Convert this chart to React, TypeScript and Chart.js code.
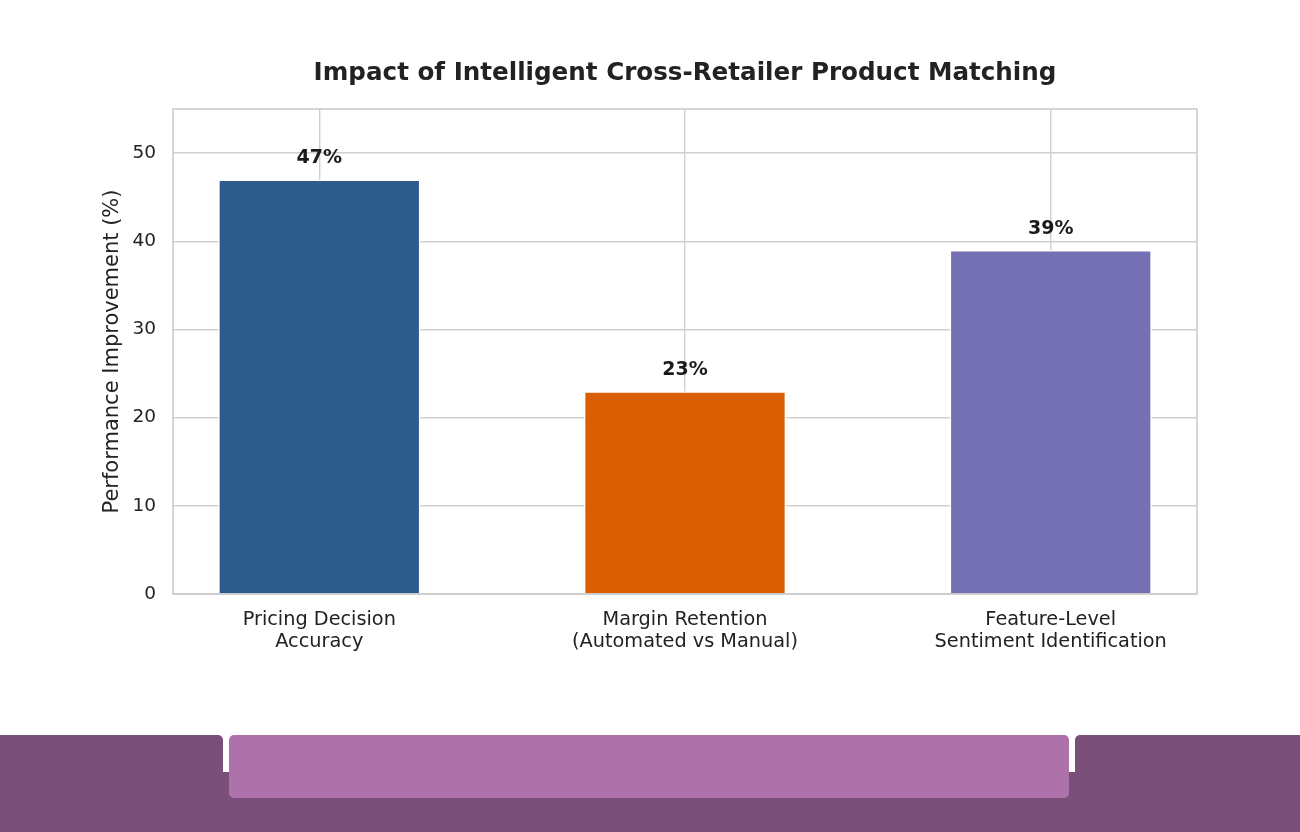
import React, { useEffect, useRef } from "react";
import { Chart, registerables } from "chart.js";

Chart.register(...registerables);

const TITLE = "Impact of Intelligent Cross-Retailer Product Matching";
const categories: string[][] = [
  ["Pricing Decision", "Accuracy"],
  ["Margin Retention", "(Automated vs Manual)"],
  ["Feature-Level", "Sentiment Identification"],
];
const values: number[] = [47, 23, 39];
const barColors: string[] = ["#2c5b8c", "#d95f02", "#7570b3"];
const yTicks: number[] = [0, 10, 20, 30, 40, 50];
const Y_LABEL = "Performance Improvement (%)";

const FONT = "'DejaVu Sans', sans-serif";

const framePlugin = {
  id: "frame",
  afterDatasetsDraw(chart: any) {
    const { ctx, chartArea } = chart;
    ctx.save();
    ctx.strokeStyle = "#cccccc";
    ctx.lineWidth = 1.6;
    ctx.strokeRect(chartArea.left, chartArea.top, chartArea.right - chartArea.left, chartArea.bottom - chartArea.top);
    // value labels
    const meta = chart.getDatasetMeta(0);
    ctx.fillStyle = "#1a1a1a";
    ctx.font = `bold 19px ${FONT}`;
    ctx.textAlign = "center";
    ctx.textBaseline = "bottom";
    meta.data.forEach((el: any, i: number) => {
      ctx.fillText(`${values[i]}%`, el.x, el.y - 12);
    });
    // title centred over plot area
    ctx.fillStyle = "#222222";
    ctx.font = `bold 24.6px ${FONT}`;
    ctx.textBaseline = "middle";
    ctx.fillText(TITLE, (chartArea.left + chartArea.right) / 2, 74);
    ctx.restore();
  },
};

function ChartView() {
  const ref = useRef<HTMLCanvasElement | null>(null);
  useEffect(() => {
    if (!ref.current) return;
    const chart = new Chart(ref.current, {
      type: "bar",
      data: {
        datasets: [
          {
            data: values.map((v, i) => ({ x: i, y: v })),
            backgroundColor: barColors,
            borderColor: "#ffffff",
            borderWidth: 1.5,
            barPercentage: 0.553,
            categoryPercentage: 1,
          },
        ],
      },
      options: {
        responsive: false,
        animation: false,
        devicePixelRatio: 1,
        layout: { padding: { left: 0, right: 103, top: 109, bottom: 0 } },
        plugins: {
          legend: { display: false },
          tooltip: { enabled: false },
          title: { display: false },
        },
        scales: {
          x: {
            type: "linear",
            min: -0.4,
            max: 2.4,
            offset: false,
            afterBuildTicks(scale: any) {
              scale.ticks = categories.map((_, i) => ({ value: i }));
            },
            grid: { color: "#d0d0d0", lineWidth: 1.4, drawTicks: false, offset: false },
            border: { display: false },
            ticks: {
              color: "#222222",
              font: { family: FONT, size: 19.3, lineHeight: 1.15 },
              padding: 15,
              maxRotation: 0,
              autoSkip: false,
              callback: (v: any) => categories[Number(v)] ?? "",
            },
            afterFit(scale: any) {
              scale.height = 720 - 594;
            },
          },
          y: {
            min: 0,
            max: 55,
            afterBuildTicks(scale: any) {
              scale.ticks = yTicks.map((v) => ({ value: v }));
            },
            grid: { color: "#d0d0d0", lineWidth: 1.4, drawTicks: false },
            border: { display: false },
            ticks: {
              color: "#222222",
              font: { family: FONT, size: 18.5 },
              padding: 17,
            },
            title: {
              display: true,
              text: Y_LABEL,
              color: "#222222",
              font: { family: FONT, size: 21 },
              padding: { top: 100, bottom: 0 },
            },
            afterFit(scale: any) {
              scale.width = 173;
            },
          },
        },
      },
      plugins: [framePlugin],
    });
    return () => chart.destroy();
  }, []);
  return <canvas ref={ref} width={1300} height={720} style={{ display: "block" }} />;
}

export default function App() {
  const dark = "#7a4f7a";
  const light = "#ae72ab";
  return (
    <div style={{ position: "fixed", left: 0, top: 0, width: 1300, height: 832, background: "#ffffff", overflow: "hidden" }}>
      <ChartView />
      <div style={{ position: "absolute", left: 0, top: 772, width: 1300, height: 60, background: dark }} />
      <div style={{ position: "absolute", left: 0, top: 735, width: 223, height: 97, background: dark, borderTopRightRadius: 5 }} />
      <div style={{ position: "absolute", left: 1075, top: 735, width: 225, height: 97, background: dark, borderTopLeftRadius: 5 }} />
      <div style={{ position: "absolute", left: 229, top: 735, width: 840, height: 63, background: light, borderRadius: 5 }} />
    </div>
  );
}
